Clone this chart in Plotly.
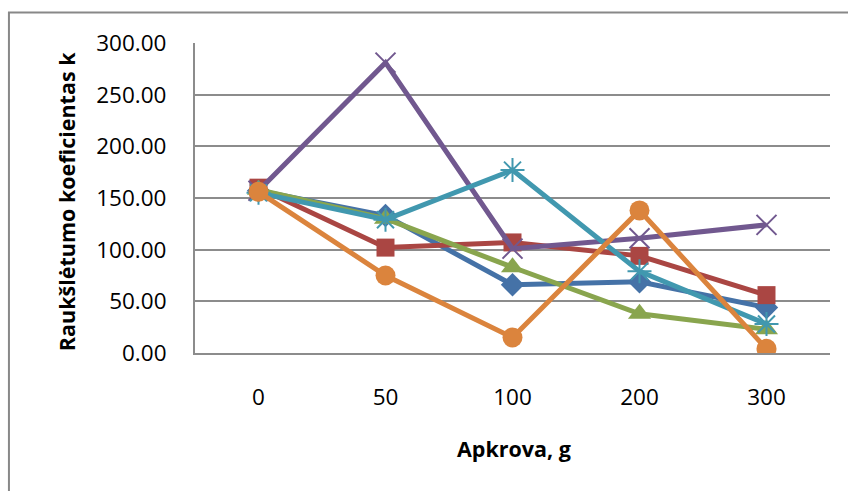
import plotly.graph_objects as go

# Load categories (g) and the roughness coefficient k for each sample series
loads = ["0", "50", "100", "200", "300"]
y_ticks = [0, 50, 100, 150, 200, 250, 300]

series_1 = [157, 133, 66, 69, 44]
series_2 = [160, 102, 107, 94, 56]
series_3 = [158, 130, 83, 38, 23]
series_4 = [157, 281, 101, 111, 124]
series_5 = [155, 129, 177, 79, 28]
series_6 = [156, 75, 15, 138, 4]

series_names = ["Serija 1", "Serija 2", "Serija 3", "Serija 4", "Serija 5", "Serija 6"]

colors = ["#4572A7", "#AA4643", "#89A54E", "#71588F", "#4198AF", "#DB843D"]
symbols = ["diamond", "square", "triangle-up", "x-thin-open", "asterisk-open", "circle"]
sizes = [18, 18, 20, 20, 20, 20]

fig = go.Figure()
for name, vals, col, sym, sz in zip(
    series_names,
    [series_1, series_2, series_3, series_4, series_5, series_6],
    colors, symbols, sizes,
):
    thin = sym.endswith("open")
    fig.add_trace(go.Scatter(
        x=loads, y=vals, name=name, mode="lines+markers",
        line=dict(color=col, width=5),
        marker=dict(symbol=sym, size=sz, color=col,
                    line=dict(color=col, width=2 if thin else 0)),
    ))

font_family = "Open Sans"
grid_col = "#8C8C8C"

fig.update_layout(
    width=848, height=491,
    margin=dict(l=195, r=18, t=43, b=138),
    paper_bgcolor="white", plot_bgcolor="white",
    showlegend=False,
    font=dict(family=font_family, size=22, color="black"),
    xaxis=dict(
        type="category", range=[-0.5, len(loads) - 0.5],
        showgrid=False, zeroline=False,
        showline=True, linecolor=grid_col, linewidth=2,
        ticks="outside", ticklen=23, tickcolor="rgba(0,0,0,0)",
        tickfont=dict(size=22.5),
    ),
    yaxis=dict(
        range=[0, 300], tickvals=y_ticks, tickformat=".2f",
        showgrid=True, gridcolor=grid_col, gridwidth=2,
        zeroline=False, showline=True, linecolor=grid_col, linewidth=2,
        ticks="outside", ticklen=22, tickcolor="rgba(0,0,0,0)",
        tickfont=dict(size=22.5),
    ),
    annotations=[
        dict(text="<b>Raukšlėtumo koeficientas k</b>", textangle=-90,
             xref="paper", yref="paper", x=-0.203, y=0.487,
             xanchor="center", yanchor="middle", showarrow=False,
             font=dict(size=21.5, family=font_family)),
        dict(text="<b>Apkrova, g</b>",
             xref="paper", yref="paper", x=0.5016, y=-0.308,
             xanchor="center", yanchor="middle", showarrow=False,
             font=dict(size=21.5, family=font_family)),
    ],
    shapes=[
        dict(type="rect", xref="paper", yref="paper",
             x0=-0.293, x1=1.3, y0=-0.8, y1=1.098,
             line=dict(color="#888888", width=2), layer="below"),
    ],
)

fig.write_html("out.html")
